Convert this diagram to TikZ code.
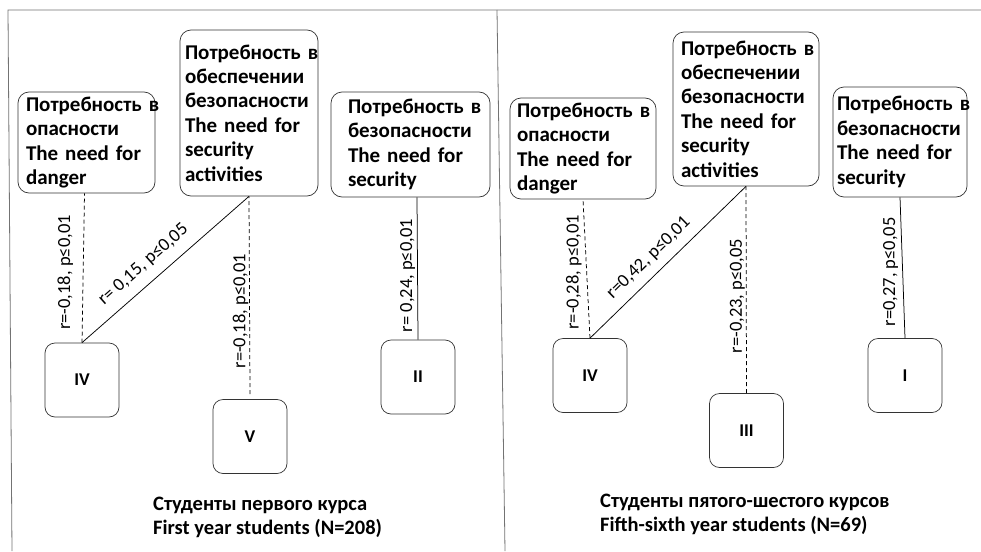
\documentclass[tikz,border=0pt]{standalone}
\usepackage{fontspec}
\setmainfont{Carlito}
\begin{document}
\begin{tikzpicture}[x=1pt,y=-1pt,
  frame/.style={draw=black!55, line width=0.8pt},
  tbox/.style={draw=black!80, line width=0.7pt, rounded corners=11pt, align=left, inner ysep=0pt,
    font=\fontsize{21}{24.4}\selectfont\bfseries},
  nbox/.style={draw=black!80, line width=0.7pt, rounded corners=10pt, minimum width=74pt,
    minimum height=74pt, inner sep=0pt, font=\fontsize{18}{20}\selectfont\bfseries},
  rel/.style={line width=0.75pt},
  nrel/.style={line width=0.75pt, dash pattern=on 4pt off 3pt},
  rlab/.style={inner sep=0pt, font=\fontsize{18.5}{20}\selectfont},
  capt/.style={align=left, anchor=west, inner sep=0pt, font=\fontsize{20.5}{24}\selectfont\bfseries}
]
\useasboundingbox (0,0) rectangle (981,551);
\fill[white] (0,0) rectangle (981,551);
\draw[frame] (12,551) -- (8,10) -- (981,10);
\draw[frame] (497,10) -- (505,551);

% left panel
\node[tbox, minimum width=137pt, minimum height=101pt, text width=121pt, inner xsep=8pt] (A) at (86.5,142.5)
  {Потребность~в\\опасности\\The need for\\danger};
\node[tbox, minimum width=138pt, minimum height=166pt, text width=128pt, inner xsep=5pt] (B) at (249,113)
  {Потребность~в\\обеспечении\\безопасности\\The need for\\security\\activities};
\node[tbox, minimum width=159pt, minimum height=105pt, text width=125pt, inner xsep=17pt] (C) at (410.5,144.5)
  {Потребность~в\\безопасности\\The need for\\security};
\node[nbox] (IV) at (82,380) {IV};
\node[nbox] (V) at (250,436.5) {V};
\node[nbox] (II) at (418,377) {II};

\draw[nrel] (IV.north) -- node[rlab, pos=0.47, xshift=-18pt, rotate=90] {r=-0,18, p≤0,01} ([xshift=-2pt]A.south);
\draw[rel] (IV.north) -- node[rlab, pos=0.44, xshift=-11.9pt, yshift=13.5pt, rotate=41.4] {r= 0,15, p≤0,05} (B.south);
\draw[nrel] ([yshift=5pt]V.north) -- node[rlab, pos=0.42, xshift=-9pt, rotate=90] {r=-0,18, p≤0,01} (B.south);
\draw[rel] (II.north) -- node[rlab, pos=0.45, xshift=-10pt, rotate=90] {r= 0,24, p≤0,01} ([xshift=6.5pt]C.south);

\node[capt] (c1) at (153,517) {Студенты первого курса\\First year students (N=208)};

% right panel
\node[tbox, minimum width=146pt, minimum height=101pt, text width=132pt, inner xsep=7pt] (Ab) at (583,148.5)
  {Потребность~в\\опасности\\The need for\\danger};
\node[tbox, minimum width=146pt, minimum height=154pt, text width=130pt, inner xsep=8pt] (Bb) at (746,109)
  {Потребность~в\\обеспечении\\безопасности\\The need for\\security\\activities};
\node[tbox, minimum width=134pt, minimum height=110pt, text width=126pt, inner xsep=4pt] (Cb) at (900,142)
  {Потребность~в\\безопасности\\The need for\\security};
\node[nbox] (IVb) at (590,375.5) {IV};
\node[nbox] (III) at (746.5,430.5) {III};
\node[nbox] (I) at (905,375.5) {I};

\draw[nrel] (IVb.north) -- node[rlab, pos=0.475, xshift=-13pt, rotate=90] {r=-0,28, p≤0,01} (Ab.south);
\draw[rel] (IVb.north) -- node[rlab, pos=0.45, xshift=-11.5pt, yshift=11.8pt, rotate=44.3] {r=0,42, p≤0,01} (Bb.south);
\draw[nrel] (III.north) -- node[rlab, pos=0.47, xshift=-9pt, rotate=90] {r=-0,23, p≤0,05} (Bb.south);
\draw[rel] (I.north) -- node[rlab, pos=0.47, xshift=-12pt, rotate=90] {r=0,27, p≤0,05} (Cb.south);

\node[capt] (c2) at (600,514) {Студенты пятого-шестого курсов\\Fifth-sixth year students (N=69)};
\end{tikzpicture}
\end{document}
